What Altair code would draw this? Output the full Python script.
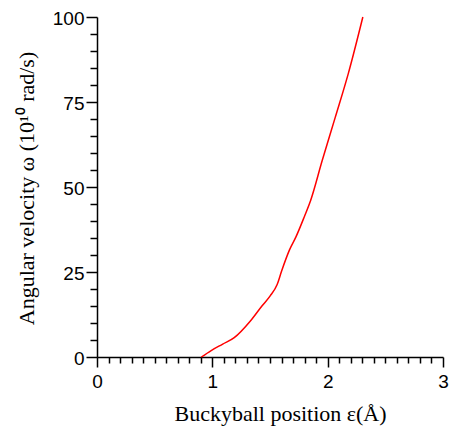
import altair as alt
import pandas as pd

# curve
position = [0.905, 0.99, 1.09, 1.19, 1.33, 1.43, 1.50, 1.562, 1.60, 1.669, 1.726, 1.797, 1.853,
            1.952, 2.065, 2.18, 2.305]
omega = [0, 1.9, 3.8, 5.7, 10.6, 15.0, 17.9, 21.3, 25.2, 31.5, 35.4, 41.2, 46.1,
         57.7, 70.4, 83.5, 100]

x_ticks = [round(i * 0.1, 1) for i in range(31)]
y_ticks = list(range(0, 101, 5))

df = pd.DataFrame({"x": position, "y": omega})

major_x = "abs(datum.value - round(datum.value)) < 0.001"
major_y = "datum.value % 25 === 0"

W, H = 346, 340

chart = alt.Chart(df).mark_line(color="#ff0000", strokeWidth=1.5, interpolate="monotone").encode(
    x=alt.X("x:Q", scale=alt.Scale(domain=[0, 3], nice=False, zero=False),
            axis=alt.Axis(values=x_ticks, title="Buckyball position ε(Å)",
                          tickSize={"condition": {"test": major_x, "value": 10}, "value": 6},
                          labelExpr=f"{major_x} ? format(datum.value, 'd') : ''",
                          labelOverlap=False, labelFlush=False, labelPadding=5,
                          titleFontSize=22, titlePadding=12, titleX=183, titleAlign="center")),
    y=alt.Y("y:Q", scale=alt.Scale(domain=[0, 100], nice=False),
            axis=alt.Axis(values=y_ticks, title="Angular velocity ω (10¹⁰ rad/s)",
                          tickSize={"condition": {"test": major_y, "value": 11}, "value": 7},
                          labelExpr=f"{major_y} ? datum.label : ''",
                          labelOverlap=False, labelFlush=False, labelPadding=2, labelOffset=1.5,
                          titleFontSize=22, titlePadding=14, titleY=171, titleAlign="center")),
).properties(
    width=W, height=H,
    autosize=alt.AutoSizeParams(type="none"),
    padding={"left": 89, "top": 9, "right": 6, "bottom": 69},
).configure_view(stroke=None).configure_axis(
    domainColor="black", tickColor="black", domainWidth=1.5, tickWidth=1.5,
    grid=False, labelFont="Liberation Sans", labelFontSize=19, labelColor="black",
    titleFont="Liberation Serif", titleFontWeight="normal", titleColor="black",
)

chart.save("out.html", embed_options={"renderer": "svg", "actions": False})
